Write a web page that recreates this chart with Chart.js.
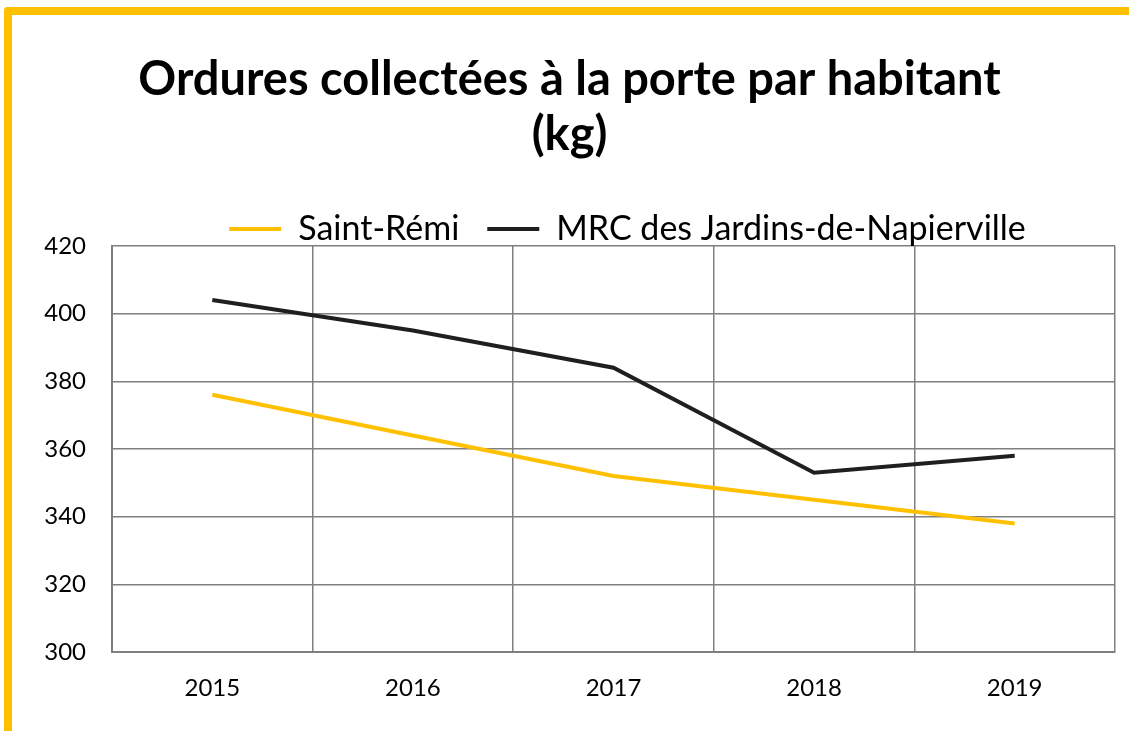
<!DOCTYPE html>
<html lang="fr">
<head>
<meta charset="utf-8">
<title>Ordures collectées à la porte par habitant</title>
<script src="https://cdn.jsdelivr.net/npm/chart.js@4/dist/chart.umd.min.js"></script>
<style>
  html, body { margin: 0; padding: 0; background: #fff; }
  #wrap { position: relative; width: 1129px; height: 731px; overflow: hidden; }
  #frame {
    position: absolute; left: 4px; top: 7px; right: -10px; bottom: -10px;
    border-top: 8px solid #FFC000; border-left: 8px solid #FFC000;
    border-top-left-radius: 4px; pointer-events: none;
  }
</style>
</head>
<body>
<div id="wrap">
  <canvas id="chart" width="1129" height="731"></canvas>
  <div id="frame"></div>
</div>
<script>
const years = ['2015', '2016', '2017', '2018', '2019'];
const saintRemi = [376, 364, 352, 345, 338];
const mrcJardins = [404, 395, 384, 353, 358];
const yTicks = [300, 320, 340, 360, 380, 400, 420];

const FONT = "Lato, 'Open Sans', 'DejaVu Sans', sans-serif";

// Excel places title and legend a bit right of the canvas centre
const nudgeBoxes = {
  id: 'nudgeBoxes',
  afterLayout(chart) {
    const lg = chart.legend;
    if (lg) {
      lg.left += 70; lg.right += 70;
      lg.top += 10; lg.bottom += 10;
    }
    const tt = chart.titleBlock;
    if (tt) { tt.left += 12; tt.right += 12; }
  }
};

new Chart(document.getElementById('chart'), {
  type: 'line',
  data: {
    labels: years,
    datasets: [
      {
        label: 'Saint-Rémi',
        data: saintRemi,
        borderColor: '#FFC000',
        backgroundColor: '#FFC000',
        borderWidth: 4,
        pointRadius: 0,
        tension: 0
      },
      {
        label: 'MRC des Jardins-de-Napierville',
        data: mrcJardins,
        borderColor: '#1f1f1f',
        backgroundColor: '#1f1f1f',
        borderWidth: 4,
        pointRadius: 0,
        tension: 0
      }
    ]
  },
  options: {
    responsive: false,
    animation: false,
    layout: { padding: { left: 0, right: 14, top: 0, bottom: 0 } },
    plugins: {
      title: {
        display: true,
        text: ['Ordures collectées à la porte par habitant', '(kg)'],
        color: '#000',
        font: { family: FONT, size: 47, weight: 'bold', lineHeight: 1.18 },
        padding: { top: 52, bottom: 11 }
      },
      legend: {
        display: true,
        position: 'top',
        labels: {
          usePointStyle: true,
          pointStyle: 'line',
          pointStyleWidth: 52,
          color: '#000',
          padding: 28,
          font: { family: FONT, size: 34 }
        }
      },
      tooltip: { enabled: false }
    },
    scales: {
      x: {
        offset: true,
        grid: { offset: true, color: '#7f7f7f', lineWidth: 1.5, drawTicks: false },
        border: { color: '#7f7f7f', width: 2 },
        ticks: { color: '#000', padding: 22, font: { family: FONT, size: 24 } },
        afterFit(scale) { scale.height = 79; }
      },
      y: {
        min: 300,
        max: 420,
        afterBuildTicks(scale) { scale.ticks = yTicks.map(v => ({ value: v })); },
        grid: { color: '#7f7f7f', lineWidth: 1.5, drawTicks: false },
        border: { color: '#7f7f7f', width: 2 },
        ticks: { color: '#000', padding: 26, font: { family: FONT, size: 24 } },
        afterFit(scale) { scale.width = 112; }
      }
    }
  },
  plugins: [nudgeBoxes]
});
</script>
</body>
</html>
